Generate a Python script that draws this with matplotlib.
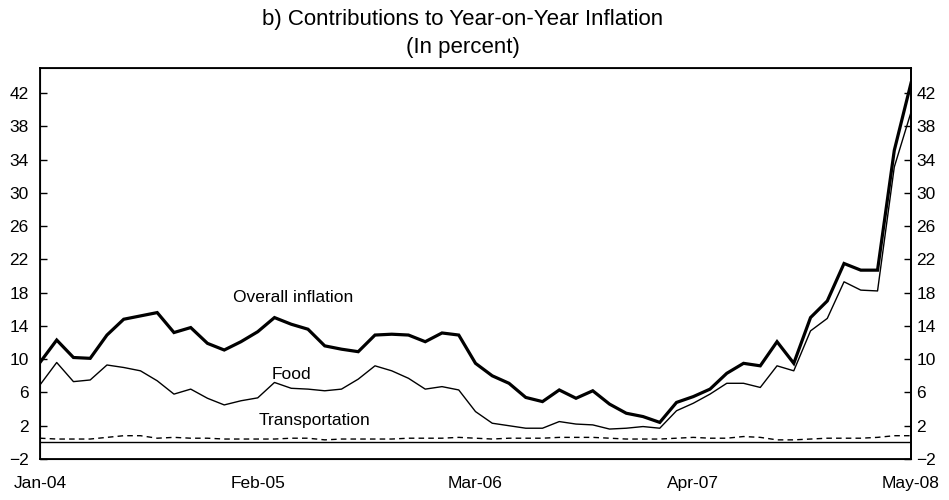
import matplotlib
matplotlib.use('Agg')
import matplotlib.pyplot as plt

plt.rcParams['font.family'] = ['Liberation Sans', 'DejaVu Sans']

# monthly data, Jan-04 .. May-08
months = list(range(53))
tick_pos = [0, 13, 26, 39, 52]
tick_labels = ['Jan-04', 'Feb-05', 'Mar-06', 'Apr-07', 'May-08']

overall = [9.6, 12.3, 10.2, 10.1, 12.9, 14.8, 15.2, 15.6, 13.2, 13.8,
           11.9, 11.1, 12.1, 13.3, 15.0, 14.2, 13.6, 11.6, 11.2, 10.9,
           12.9, 13.0, 12.9, 12.1, 13.15, 12.9, 9.5, 8.0, 7.1, 5.4,
           4.9, 6.3, 5.3, 6.2, 4.6, 3.5, 3.1, 2.4, 4.8, 5.5,
           6.4, 8.3, 9.5, 9.2, 12.1, 9.5, 15.0, 17.0, 21.5, 20.7,
           20.7, 35.1, 43.2]
food = [6.9, 9.6, 7.3, 7.5, 9.3, 9.0, 8.6, 7.4, 5.8, 6.4,
        5.3, 4.5, 5.0, 5.35, 7.2, 6.5, 6.4, 6.2, 6.4, 7.6,
        9.2, 8.6, 7.7, 6.4, 6.7, 6.3, 3.7, 2.3, 2.0, 1.7,
        1.7, 2.5, 2.2, 2.1, 1.6, 1.7, 1.9, 1.7, 3.8, 4.7,
        5.8, 7.1, 7.1, 6.6, 9.2, 8.6, 13.4, 14.9, 19.3, 18.3,
        18.2, 33.1, 39.7]
transport = [0.5, 0.4, 0.4, 0.4, 0.6, 0.8, 0.8, 0.5, 0.6, 0.5,
             0.5, 0.4, 0.4, 0.4, 0.4, 0.5, 0.5, 0.3, 0.4, 0.4,
             0.4, 0.4, 0.5, 0.5, 0.5, 0.6, 0.5, 0.4, 0.5, 0.5,
             0.5, 0.6, 0.6, 0.6, 0.5, 0.4, 0.4, 0.4, 0.5, 0.6,
             0.5, 0.5, 0.7, 0.6, 0.3, 0.3, 0.4, 0.5, 0.5, 0.5,
             0.6, 0.8, 0.8]
yticks = list(range(-2, 43, 4))

fig = plt.figure(figsize=(9.49, 5.0), dpi=100)
ax = fig.add_axes([0.0421, 0.082, 0.9179, 0.782])

ax.plot(months, overall, color='black', linewidth=2.3, solid_joinstyle='miter')
ax.plot(months, food, color='black', linewidth=1.0)
ax.plot(months, transport, color='black', linewidth=1.0, linestyle=(0, (4, 3)))
ax.axhline(0, color='black', linewidth=1.0)

ax.text(15.1, 17.4, 'Overall inflation', fontsize=12.5, ha='center', va='center')
ax.text(15.0, 8.1, 'Food', fontsize=12.5, ha='center', va='center')
ax.text(16.4, 2.6, 'Transportation', fontsize=12.5, ha='center', va='center')

ax.set_xlim(0, 52)
ax.set_ylim(-2, 45)
ax.set_yticks(yticks)
ax.set_xticks(tick_pos)
ax.set_xticklabels(tick_labels)
ax.tick_params(axis='x', length=0, pad=12, labelsize=12.5)
ax.tick_params(axis='y', direction='in', length=5, width=1, labelsize=12.5, pad=8)
for sp in ax.spines.values():
    sp.set_linewidth(1.3)

# right-hand axis with the same scale
ax2 = ax.twinx()
ax2.set_ylim(ax.get_ylim())
ax2.set_yticks(yticks)
ax2.tick_params(axis='y', direction='in', length=5, width=1, labelsize=12.5, pad=4)
ax2.spines['right'].set_linewidth(1.3)

fig.text(463 / 949, 1 - 20 / 500, 'b) Contributions to Year-on-Year Inflation',
         fontsize=16, ha='center', va='center')
fig.text(463 / 949, 1 - 47 / 500, '(In percent)', fontsize=16, ha='center', va='center')

fig.savefig('out.png', dpi=100)
